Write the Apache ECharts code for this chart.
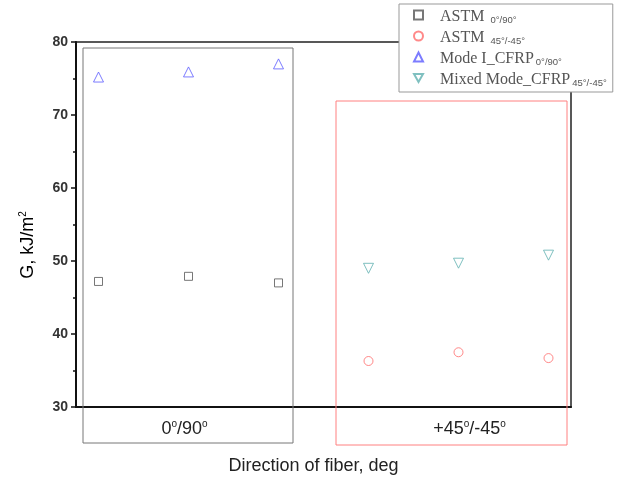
<!DOCTYPE html>
<html>
<head>
<meta charset="utf-8">
<script src="https://cdn.jsdelivr.net/npm/echarts@6/dist/echarts.min.js"></script>
<style>
  html, body { margin: 0; padding: 0; background: #fff; }
  #chart { width: 624px; height: 477px; }
</style>
</head>
<body>
<div id="chart"></div>
<script>
// specimen positions along the (hidden) x scale
var posLeft = [1, 2, 3];
var posRight = [4, 5, 6];

// G values, kJ/m^2
var astm090 = [47.2, 47.9, 47.0];
var astm45 = [36.3, 37.5, 36.7];
var modeI = [75.2, 75.9, 77.0];
var mixedMode = [49.0, 49.7, 50.8];

var groupPos = [2, 5];
var groupLabels = ['{a|0}{s|o}{a|/90}{e|o}', '{b|+45}{s|o}{a|/-45}{s|o}'];

function pairs(xs, ys) {
    var out = [];
    for (var i = 0; i < xs.length; i++) out.push([xs[i], ys[i]]);
    return out;
}

var chart = echarts.init(document.getElementById('chart'));

var legendRich = {
    n: { fontFamily: 'Liberation Serif', fontSize: 16, color: '#555', lineHeight: 20, verticalAlign: 'bottom' },
    s: { fontFamily: 'Liberation Sans', fontSize: 9.5, color: '#555', lineHeight: 12, verticalAlign: 'bottom', padding: [7, 0, 0, 2] }
};

var legendNames = {
    'ASTM 0': '{n|ASTM }{s|0°/90°}',
    'ASTM 45': '{n|ASTM }{s|45°/-45°}',
    'Mode I': '{n|Mode I_CFRP}{s|0°/90°}',
    'Mixed': '{n|Mixed Mode_CFRP}{s|45°/-45°}'
};

var downTri = 'path://M0,0L10,0L5,9Z';

var axisFont = { fontFamily: 'Liberation Sans', fontSize: 18, color: '#222', lineHeight: 22, verticalAlign: 'bottom' };
var supFont = { fontFamily: 'Liberation Sans', fontSize: 10, color: '#222', lineHeight: 22, verticalAlign: 'bottom', padding: [0, 0, 9, 0] };

var option = {
    animation: false,
    backgroundColor: '#fff',
    grid: {
        left: 76, right: 53, top: 42, bottom: 70,
        containLabel: false,
        outerBoundsMode: 'none',
        show: true,
        borderColor: '#222',
        borderWidth: 1.5
    },
    legend: {
        orient: 'vertical',
        left: 399,
        top: 4,
        padding: [4, 6, 4, 14],
        itemGap: 4,
        itemWidth: 9,
        itemHeight: 9,
        backgroundColor: '#fff',
        borderColor: '#999',
        borderWidth: 1,
        z: 10,
        data: ['ASTM 0', 'ASTM 45', 'Mode I', 'Mixed'],
        formatter: function (name) { return legendNames[name]; },
        textStyle: { rich: legendRich, padding: [0, 0, 0, 12] }
    },
    xAxis: {
        type: 'value',
        min: 0.75,
        max: 6.25,
        splitLine: { show: false },
        axisLine: { show: true, lineStyle: { color: '#111', width: 2 } },
        axisTick: { show: false },
        axisLabel: {
            customValues: groupPos,
            margin: 9,
            formatter: function (v) {
                var i = groupPos.indexOf(v);
                return i >= 0 ? groupLabels[i] : '';
            },
            rich: {
                a: axisFont,
                b: echarts.util.extend(echarts.util.extend({}, axisFont), { padding: [0, 0, 0, 22] }),
                s: supFont,
                e: echarts.util.extend(echarts.util.extend({}, supFont), { padding: [0, 8, 9, 0] })
            }
        },
        name: 'Direction of fiber, deg',
        nameLocation: 'middle',
        nameGap: 50,
        nameTextStyle: { fontFamily: 'Liberation Sans', fontSize: 18, color: '#222', padding: [0, 20, 0, 0] }
    },
    yAxis: {
        type: 'value',
        min: 30,
        max: 80,
        interval: 10,
        splitLine: { show: false },
        axisLine: { show: true, lineStyle: { color: '#111', width: 2 } },
        axisTick: { show: true, inside: false, length: 5, lineStyle: { color: '#111', width: 1.5 } },
        minorTick: { show: true, splitNumber: 2, length: 3, lineStyle: { color: '#111', width: 1.5 } },
        axisLabel: {
            margin: 8,
            fontFamily: 'Liberation Sans',
            fontSize: 14,
            fontWeight: 'bold',
            color: '#333'
        }
    },
    graphic: [
        {
            type: 'rect', z: 1, silent: true,
            shape: { x: 83, y: 48, width: 210, height: 395 },
            style: { fill: 'none', stroke: '#777', lineWidth: 1 }
        },
        {
            type: 'rect', z: 1, silent: true,
            shape: { x: 336, y: 101, width: 231, height: 344 },
            style: { fill: 'none', stroke: '#ff8080', lineWidth: 1 }
        },
        {
            type: 'text', silent: true,
            x: 26, y: 245,
            rotation: Math.PI / 2,
            style: {
                text: '{a|G, kJ/m}{s|2}',
                align: 'center',
                verticalAlign: 'middle',
                rich: { a: axisFont, s: supFont }
            }
        }
    ],
    series: [
        {
            name: 'ASTM 0', type: 'scatter', symbol: 'rect', symbolSize: 8,
            itemStyle: { color: '#fff', borderColor: '#555', borderWidth: 1 },
            data: pairs(posLeft, astm090)
        },
        {
            name: 'ASTM 45', type: 'scatter', symbol: 'circle', symbolSize: 9,
            itemStyle: { color: '#fff', borderColor: '#ff6b6b', borderWidth: 1 },
            data: pairs(posRight, astm45)
        },
        {
            name: 'Mode I', type: 'scatter', symbol: 'triangle', symbolSize: 10,
            itemStyle: { color: '#fff', borderColor: '#5b5bff', borderWidth: 1 },
            data: pairs(posLeft, modeI)
        },
        {
            name: 'Mixed', type: 'scatter', symbol: downTri, symbolSize: 10,
            itemStyle: { color: '#fff', borderColor: '#5fb0b0', borderWidth: 1 },
            data: pairs(posRight, mixedMode)
        }
    ]
};

chart.setOption(option);
</script>
</body>
</html>
